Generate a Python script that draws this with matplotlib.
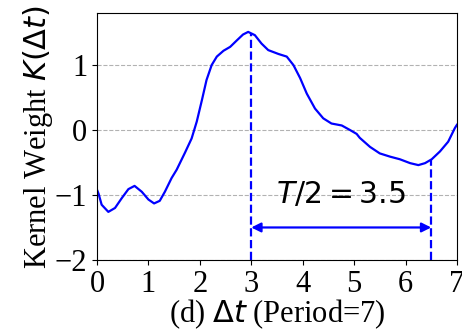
import matplotlib
matplotlib.use("Agg")
import matplotlib.pyplot as plt

plt.rcParams['font.family'] = ['Liberation Serif', 'DejaVu Sans']
plt.rcParams['mathtext.fontset'] = 'dejavusans'

dt = [0.0, 0.03, 0.09, 0.22, 0.35, 0.48, 0.61, 0.73, 0.87, 1.0, 1.11, 1.22, 1.32, 1.45,
      1.55, 1.71, 1.84, 1.94, 2.04, 2.13, 2.23, 2.33, 2.46, 2.59, 2.72, 2.84, 2.94,
      3.07, 3.20, 3.33, 3.53, 3.69, 3.82, 3.95, 4.08, 4.24, 4.40, 4.56, 4.76, 4.92,
      5.05, 5.11, 5.31, 5.50, 5.70, 5.89, 6.09, 6.25, 6.38, 6.51, 6.67, 6.83, 6.96, 7.0]
kw = [-0.92, -0.98, -1.15, -1.26, -1.20, -1.05, -0.91, -0.86, -0.95, -1.07, -1.13, -1.09,
      -0.95, -0.74, -0.61, -0.35, -0.13, 0.13, 0.46, 0.77, 1.00, 1.13, 1.22, 1.28, 1.38,
      1.47, 1.51, 1.46, 1.33, 1.23, 1.17, 1.13, 1.00, 0.80, 0.56, 0.33, 0.18, 0.10,
      0.07, 0.0, -0.06, -0.12, -0.26, -0.36, -0.41, -0.45, -0.51, -0.54, -0.51, -0.45,
      -0.33, -0.18, 0.03, 0.08]
peak_x, peak_y = 3.0, 1.49
trough_x, trough_y = 6.5, -0.46
arrow_y = -1.5
label_x, label_y = 4.74, -1.0
xticks = [0, 1, 2, 3, 4, 5, 6, 7]
yticks = [-2, -1, 0, 1]

fig = plt.figure(figsize=(4.62, 3.35), dpi=100)
ax = fig.add_axes([0.21, 0.224, 0.779, 0.737])
ax.plot(dt, kw, color='blue', lw=1.6, solid_joinstyle='round')
ax.plot([peak_x, peak_x], [-2, peak_y], color='blue', lw=1.6, ls='--')
ax.plot([trough_x, trough_x], [-2, trough_y], color='blue', lw=1.6, ls='--')
ax.annotate('', xy=(trough_x, arrow_y), xytext=(peak_x, arrow_y),
            arrowprops=dict(arrowstyle='<|-|>', color='blue', lw=1.6, mutation_scale=14,
                            shrinkA=0, shrinkB=0))
ax.text(label_x, label_y, r'$T/2 = 3.5$', ha='center', va='center', fontsize=21.5)
ax.set_xlim(0, 7)
ax.set_ylim(-2, 1.8)
ax.set_xticks(xticks)
ax.set_yticks(yticks)
ax.tick_params(labelsize=22)
ax.yaxis.grid(True, ls='--', color='gray', alpha=0.6, lw=0.8)
ax.set_xlabel(r'(d) $\Delta t$ (Period=7)', fontsize=22, labelpad=-1)
ax.set_ylabel(r'Kernel Weight $K(\Delta t)$', fontsize=22, labelpad=0)
fig.savefig('out.png', dpi=100)
